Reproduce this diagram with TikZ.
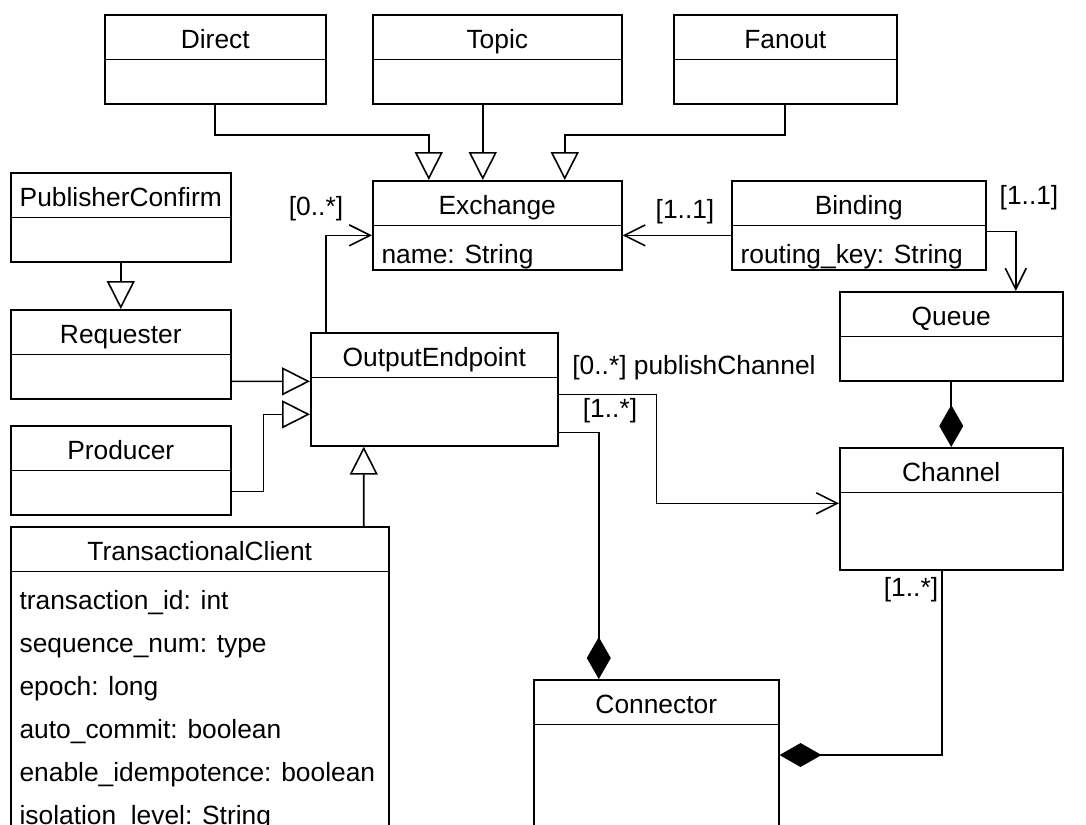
\documentclass[tikz,border=0pt]{standalone}
\usepackage{fontspec}
\setmainfont{Liberation Sans}
\usetikzlibrary{shapes.multipart, arrows.meta}
\renewcommand{\arraystretch}{0.5}
\newcommand{\titlestrut}{\rule[-5.67pt]{0pt}{24.47pt}}
\newcommand{\attrstrut}{\rule[-3.2pt]{0pt}{24.47pt}}

\begin{document}
\begin{tikzpicture}[x=0.02cm, y=-0.02cm, line width=0.9pt,
    font=\fontsize{15}{18}\selectfont,
    umlclass/.style={rectangle split, rectangle split parts=2, draw, anchor=north west,
      inner xsep=5pt, inner ysep=0pt, rectangle split part align={center,left},
      rectangle split empty part height=24.47pt, rectangle split empty part depth=0pt},
    gen/.style={-{Triangle[open, length=0.56cm, width=0.56cm]}},
    assoc/.style={-{Straight Barb[length=0.42cm, width=0.42cm]}},
    comp/.style={-{Diamond[length=0.84cm, width=0.48cm]}},
    mult/.style={inner sep=0pt}]
  \clip (0,0) rectangle (1086,825);

  % Exchange kinds
  \node[umlclass, minimum width=4.42cm] (direct) at (104,14) {\titlestrut Direct\nodepart{two}};
  \node[umlclass, minimum width=4.98cm] (topic) at (372,14) {\titlestrut Topic\nodepart{two}};
  \node[umlclass, minimum width=4.46cm] (fanout) at (673,14) {\titlestrut Fanout\nodepart{two}};

  % Exchange and binding
  \node[umlclass, minimum width=4.98cm] (exchange) at (372,180)
    {\titlestrut Exchange\nodepart{two}\begin{tabular}{@{}l@{}}\attrstrut name: String\end{tabular}};
  \node[umlclass, minimum width=5.08cm] (binding) at (731,180)
    {\titlestrut Binding\nodepart{two}\begin{tabular}{@{}l@{}}\attrstrut routing\_key: String\end{tabular}};

  % Clients
  \node[umlclass, minimum width=4.4cm] (pubconfirm) at (10,172) {\titlestrut PublisherConfirm\nodepart{two}};
  \node[umlclass, minimum width=4.4cm] (requester) at (10,309) {\titlestrut Requester\nodepart{two}};
  \node[umlclass, minimum width=4.4cm] (producer) at (10,425) {\titlestrut Producer\nodepart{two}};
  \node[umlclass, minimum width=4.94cm, rectangle split empty part height=38.1pt] (outendpoint) at (310,332)
    {\titlestrut OutputEndpoint\nodepart{two}};
  \node[umlclass, minimum width=7.56cm] (txclient) at (10,526)
    {\titlestrut TransactionalClient\nodepart{two}\begin{tabular}{@{}l@{}}
      \attrstrut transaction\_id: int\\
      \attrstrut sequence\_num: type\\
      \attrstrut epoch: long\\
      \attrstrut auto\_commit: boolean\\
      \attrstrut enable\_idempotence: boolean\\
      \attrstrut isolation\_level: String\\[20pt]
    \end{tabular}};

  % Queue, channel, connector
  \node[umlclass, minimum width=4.46cm] (queue) at (839,291) {\titlestrut Queue\nodepart{two}};
  \node[umlclass, minimum width=4.46cm, rectangle split empty part height=43.2pt] (channel) at (839,447)
    {\titlestrut Channel\nodepart{two}};
  \node[umlclass, minimum width=4.9cm, rectangle split empty part height=85pt] (connector) at (533,679)
    {\titlestrut Connector\nodepart{two}};

  % Generalisations
  \draw[gen] (direct.south) -- ++(0,30) -| ([xshift=-1.37cm]exchange.north);
  \draw[gen] ([xshift=-0.29cm]topic.south) -- ([xshift=-0.29cm]exchange.north);
  \draw[gen] (fanout.south) -- ++(0,30) -| ([xshift=1.35cm]exchange.north);
  \draw[gen] (pubconfirm.south) -- (requester.north);
  \draw[gen] ([yshift=-0.54cm]requester.east) -- ([yshift=0.16cm]outendpoint.west);
  \draw[gen] ([yshift=-0.42cm]producer.east) -- ++(32,0) |- ([yshift=-0.5cm]outendpoint.west);
  \draw[gen] ([xshift=3.28cm]txclient.north) -- ([xshift=-1.41cm]outendpoint.south);

  % Associations
  \draw[assoc] ([xshift=-2.17cm]outendpoint.north) |- ([yshift=-0.2cm]exchange.west);
  \draw[assoc] ([yshift=-0.2cm]binding.west) -- ([yshift=-0.2cm]exchange.east);
  \draw[assoc] ([yshift=-0.12cm]binding.east) -| ([xshift=1.29cm]queue.north);
  \draw[assoc] ([yshift=-0.1cm]outendpoint.east) -- ++(98,0) |- ([yshift=0.11cm]channel.west);

  % Compositions
  \draw[comp] ([yshift=-0.86cm]outendpoint.east) -| ([xshift=-1.15cm]connector.north);
  \draw[comp] (queue.south) -- (channel.north);
  \draw[comp] ([xshift=-0.19cm]channel.south) |- ([yshift=0.45cm]connector.east);

  % Multiplicities
  \node[mult] (m-oe-ex) at (316,209) {[0..*]};
  \node[mult] (m-bi-ex) at (685,212) {[1..1]};
  \node[mult] (m-bi-qu) at (1029,198) {[1..1]};
  \node[mult] (m-oe-ch) at (694,368) {[0..*] publishChannel};
  \node[mult] (m-oe-co) at (610,411) {[1..*]};
  \node[mult] (m-ch-co) at (911,590) {[1..*]};
\end{tikzpicture}
\end{document}
